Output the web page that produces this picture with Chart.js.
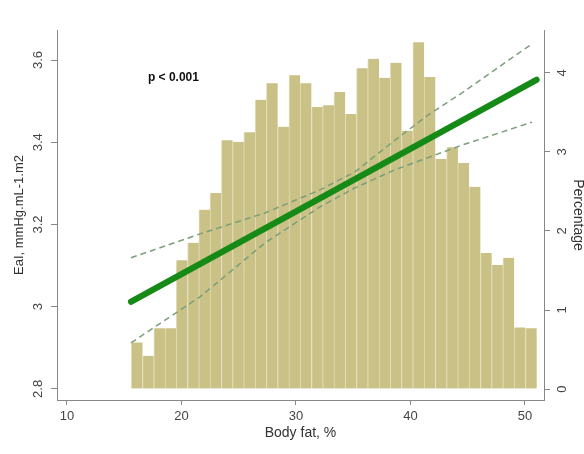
<!DOCTYPE html>
<html>
<head>
<meta charset="utf-8">
<script src="https://cdn.jsdelivr.net/npm/chart.js@4.4.1/dist/chart.umd.min.js"></script>
<style>
  html, body { margin: 0; padding: 0; background: #fff; }
  canvas { display: block; }
</style>
</head>
<body>
<canvas id="myChart" width="584" height="454"></canvas>
<script>
'use strict';

// histogram of body fat (right axis, percentage)
const binCenters = [16.11, 17.09, 18.08, 19.06, 20.04, 21.03, 22.01, 22.99, 23.98, 24.96,
  25.94, 26.93, 27.91, 28.90, 29.88, 30.86, 31.85, 32.83, 33.81, 34.80,
  35.78, 36.76, 37.75, 38.73, 39.71, 40.70, 41.68, 42.67, 43.65, 44.63,
  45.62, 46.60, 47.58, 48.57, 49.55, 50.53];
const binPct = [0.59, 0.42, 0.77, 0.77, 1.63, 1.85, 2.27, 2.48, 3.15, 3.13,
  3.25, 3.66, 3.87, 3.32, 3.97, 3.87, 3.57, 3.59, 3.76, 3.48,
  4.06, 4.18, 3.94, 4.13, 3.27, 4.39, 3.95, 2.91, 3.06, 2.86,
  2.56, 1.72, 1.57, 1.66, 0.78, 0.77];

// fitted line and 95% CI (left axis)
const fitX = [15.59, 51.02];
const fitY = [3.012, 3.552];
const ciUpX = [15.59, 21.62, 27.29, 32.10, 35.15, 38.65, 41.53, 44.50, 50.70];
const ciUpY = [3.119, 3.177, 3.228, 3.284, 3.328, 3.405, 3.466, 3.520, 3.641];
const ciLoX = [15.59, 21.62, 27.29, 32.10, 35.15, 38.65, 44.50, 50.62];
const ciLoY = [2.912, 3.024, 3.155, 3.243, 3.289, 3.333, 3.393, 3.449];

const xTicks = [10, 20, 30, 40, 50];
const leftTicks = [2.8, 3, 3.2, 3.4, 3.6];
const leftTickLabels = ['2.8', '3', '3.2', '3.4', '3.6'];
const rightTicks = [0, 1, 2, 3, 4];

const pText = 'p < 0.001';

const pts = (xs, ys) => xs.map((x, i) => ({ x: x, y: ys[i] }));
const setTicks = arr => s => { s.ticks = arr.map(v => ({ value: v })); };

Chart.defaults.font.family = '"Liberation Sans", Arial, sans-serif';

const pLabel = {
  id: 'pLabel',
  afterDatasetsDraw(chart) {
    const { ctx, scales } = chart;
    ctx.save();
    ctx.font = 'bold 12px "Liberation Sans", Arial, sans-serif';
    ctx.fillStyle = '#111';
    ctx.textBaseline = 'middle';
    ctx.fillText(pText, scales.x.getPixelForValue(17.07), scales.y.getPixelForValue(3.557));
    ctx.restore();
  }
};

const axisGrid = { drawOnChartArea: false, offset: false, color: '#888', tickLength: 6 };

const ctx = document.getElementById('myChart').getContext('2d');
const myChart = new Chart(ctx, {
  type: 'bar',
  data: {
    datasets: [
      {
        type: 'line',
        data: pts(fitX, fitY),
        yAxisID: 'y',
        borderColor: '#168a16',
        borderWidth: 6,
        borderCapStyle: 'round',
        pointRadius: 0,
        order: 0,
      },
      {
        type: 'line',
        data: pts(ciUpX, ciUpY),
        yAxisID: 'y',
        borderColor: '#7a9f7a',
        borderWidth: 1.5,
        borderDash: [6, 4],
        pointRadius: 0,
        order: 1,
      },
      {
        type: 'line',
        data: pts(ciLoX, ciLoY),
        yAxisID: 'y',
        borderColor: '#7a9f7a',
        borderWidth: 1.5,
        borderDash: [6, 4],
        pointRadius: 0,
        order: 1,
      },
      {
        type: 'bar',
        data: pts(binCenters, binPct),
        yAxisID: 'y1',
        backgroundColor: '#c9c186',
        borderColor: '#e2dcb6',
        borderWidth: { left: 1, right: 0, top: 0, bottom: 0 },
        barPercentage: 1,
        categoryPercentage: 1,
        order: 2,
      },
    ],
  },
  options: {
    responsive: false,
    animation: false,
    layout: { padding: { top: 30, left: 0, right: 0, bottom: 0 } },
    plugins: { legend: { display: false }, tooltip: { enabled: false } },
    scales: {
      x: {
        type: 'linear',
        min: 9.13,
        max: 51.66,
        offset: false,
        afterBuildTicks: setTicks(xTicks),
        afterFit: s => { s.height = 54; },
        grid: { drawOnChartArea: false, offset: false, color: '#888', tickLength: 5 },
        border: { color: '#888' },
        ticks: { color: '#444', font: { size: 13 }, padding: 4, maxRotation: 0, autoSkip: false },
        title: { display: true, text: 'Body fat, %', color: '#333', font: { size: 14 }, padding: { bottom: 12 } },
      },
      y: {
        position: 'left',
        min: 2.773,
        max: 3.673,
        afterBuildTicks: setTicks(leftTicks),
        afterFit: s => { s.width = 57; },
        grid: axisGrid,
        border: { color: '#888' },
        ticks: {
          color: '#444', font: { size: 13 }, padding: 4, autoSkip: false,
          minRotation: 90, maxRotation: 90, crossAlign: 'center',
          callback: (v, i) => leftTickLabels[i],
        },
        title: { display: true, text: 'EaI, mmHg.mL-1.m2', color: '#333', font: { size: 13 }, padding: { top: 12 } },
      },
      y1: {
        position: 'right',
        min: -0.139,
        max: 4.544,
        afterBuildTicks: setTicks(rightTicks),
        afterFit: s => { s.width = 40; },
        grid: axisGrid,
        border: { color: '#888' },
        ticks: {
          color: '#444', font: { size: 13 }, padding: 9, autoSkip: false,
          minRotation: 90, maxRotation: 90, crossAlign: 'center',
        },
        title: { display: true, text: 'Percentage', color: '#333', font: { size: 14 }, padding: { top: -2 } },
      },
    },
  },
  plugins: [pLabel],
});
</script>
</body>
</html>
